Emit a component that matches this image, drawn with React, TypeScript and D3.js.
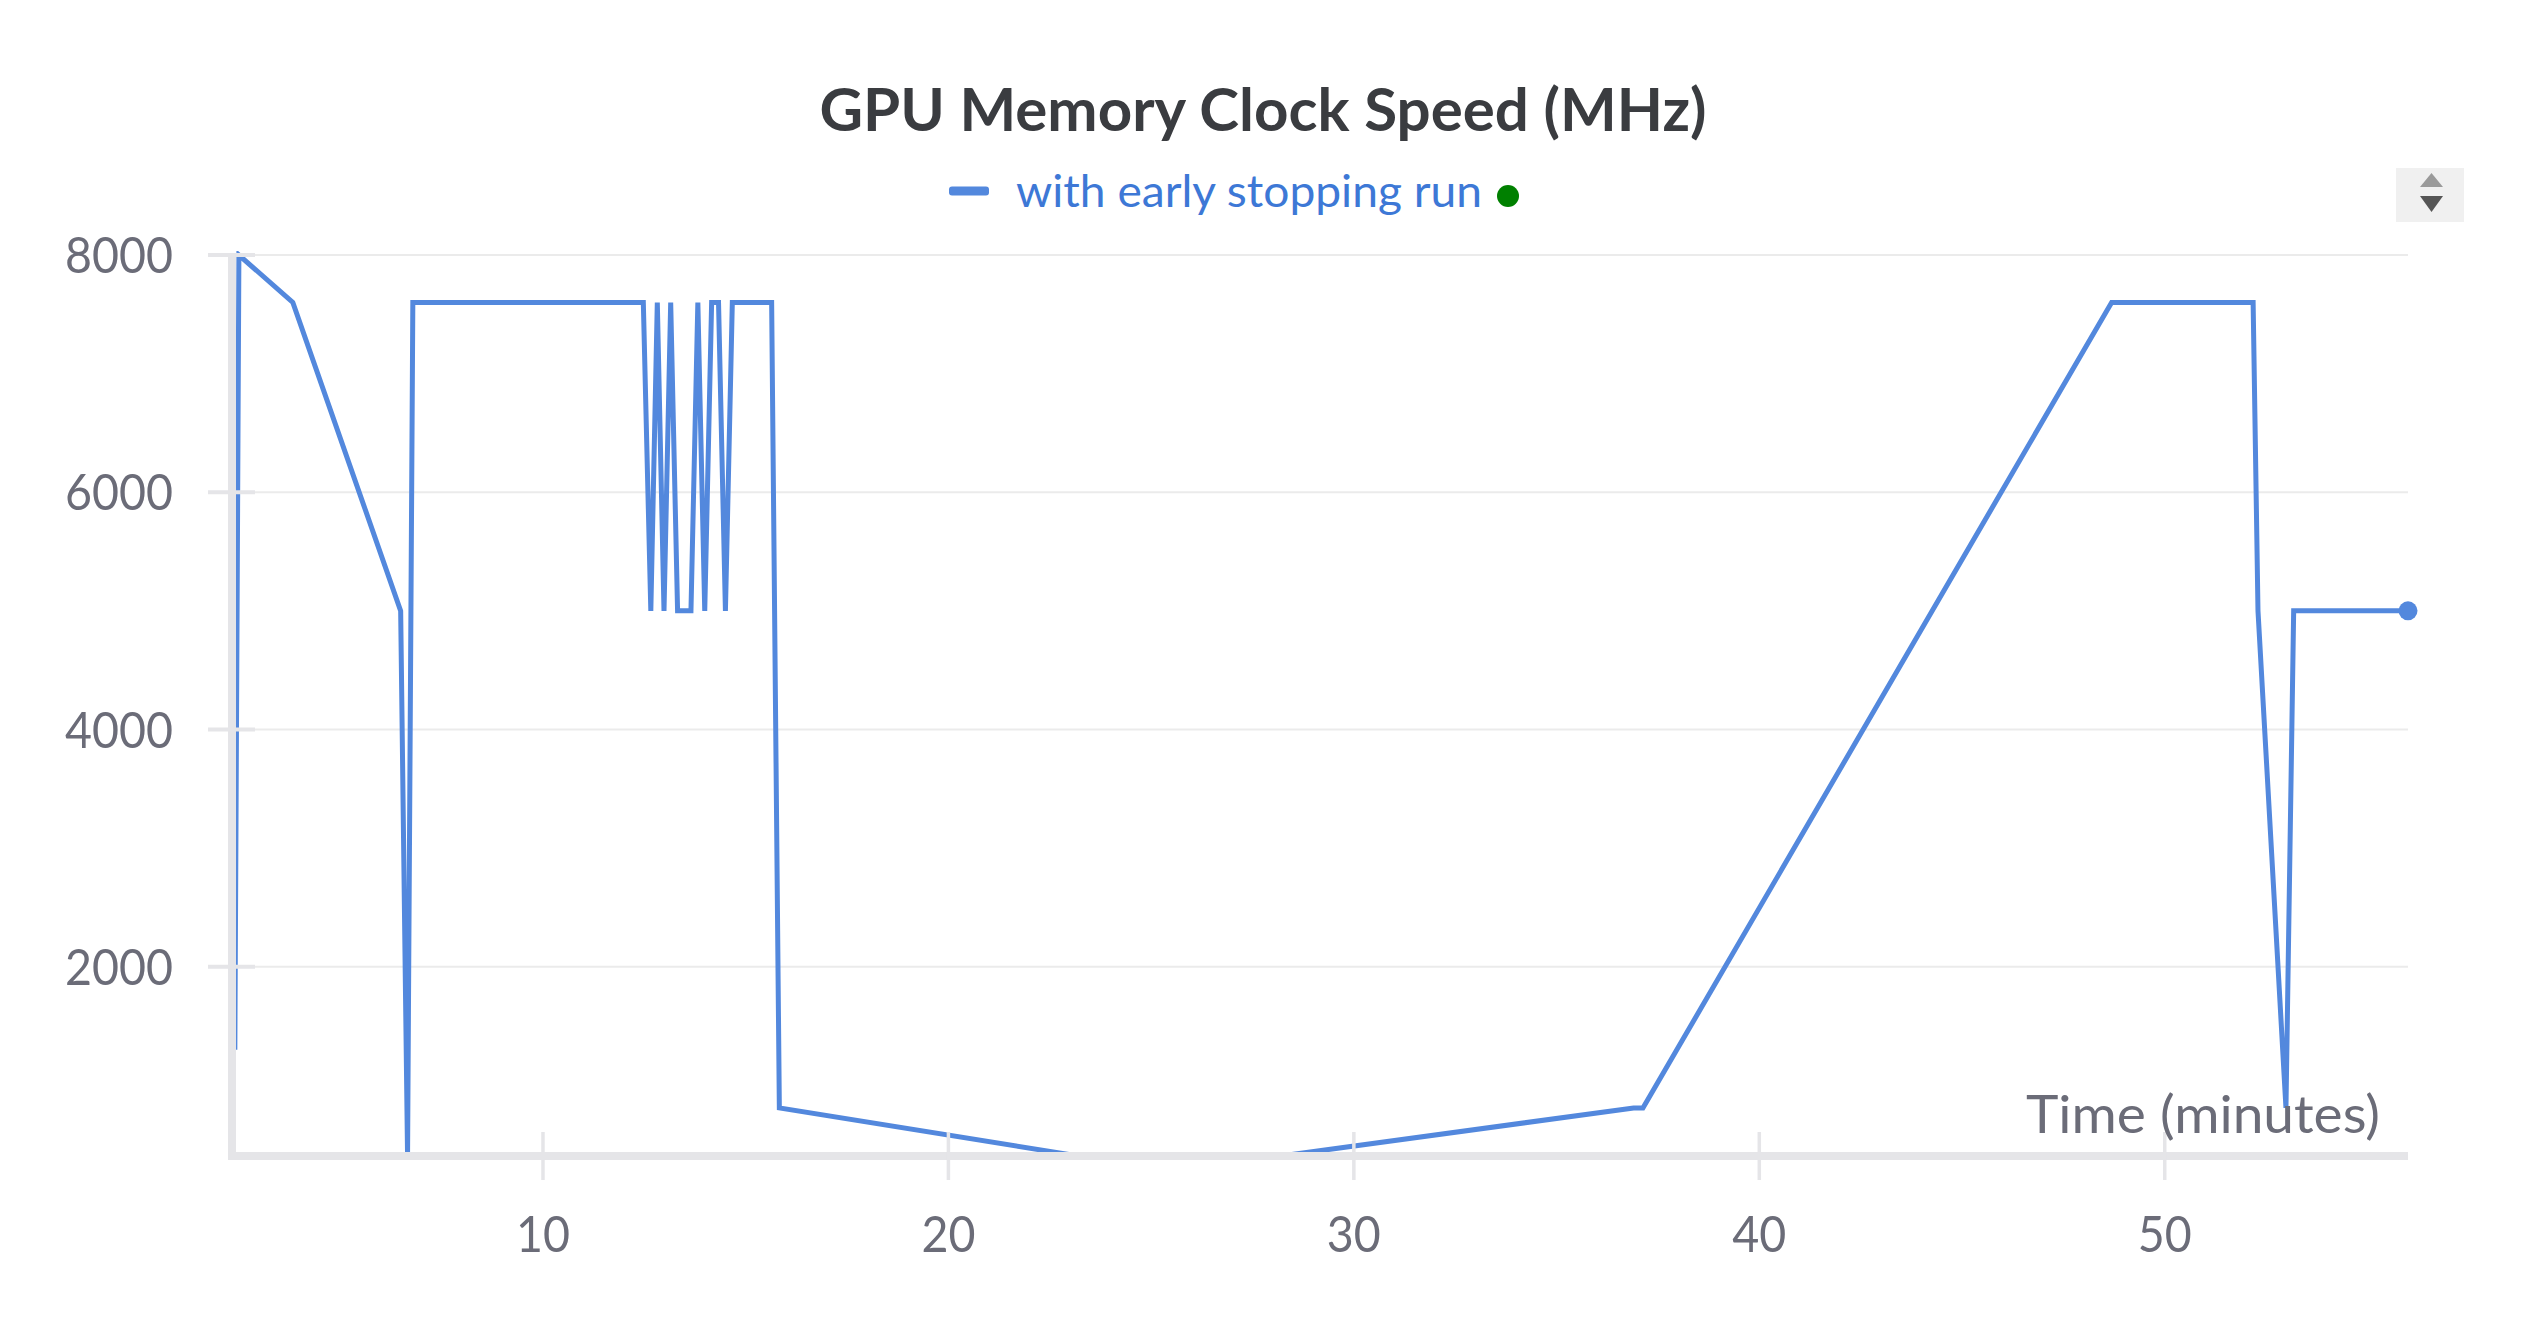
import React from "react";
import * as d3 from "d3";

const TITLE = "GPU Memory Clock Speed (MHz)";
const SERIES_NAME = "with early stopping run";
const X_LABEL = "Time (minutes)";

const times = [2.4, 2.5, 3.83, 6.49, 6.66, 6.79, 12.475, 12.66, 12.82, 12.985, 13.15, 13.32, 13.65, 13.82, 13.99, 14.16, 14.33, 14.5, 14.67, 15.64, 15.83, 23.2, 28.2, 36.9, 37.13, 48.69, 52.18, 52.3, 52.99, 53.18, 56.0];
const clockMHz = [1300, 8001, 7601, 5001, 405, 7601, 7601, 5001, 7601, 5001, 7601, 5001, 5001, 7601, 5001, 7601, 7601, 5001, 7601, 7601, 810, 405, 405, 810, 810, 7601, 7601, 5001, 810, 5001, 5001];

const xTicks = [10, 20, 30, 40, 50];
const yTicks = [2000, 4000, 6000, 8000];
const xDomain = [2.33, 56.0];
const yDomain = [405, 8001];

const LINE_COLOR = "#5388dd";
const AXIS_COLOR = "#e5e5e8";
const GRID_COLOR = "#ebebeb";
const TICK_TEXT = "#6b6c78";
const FONT = "Lato, 'Noto Sans', sans-serif";

export default function App() {
  const left = 232, right = 2408, top = 255, bottom = 1156;
  const x = d3.scaleLinear().domain(xDomain).range([left, right]);
  const y = d3.scaleLinear().domain(yDomain).range([bottom, top]);
  const pts = times.map((t, i) => [t, clockMHz[i]] as [number, number]);
  const line = d3.line<[number, number]>().x(d => x(d[0])).y(d => y(d[1]));
  const last = pts[pts.length - 1];

  return (
    <svg width={2528} height={1328} style={{ position: "absolute", left: 0, top: 0, background: "#fff" }} fontFamily={FONT}>
      <defs>
        <clipPath id="plot">
          <rect x={left} y={top - 4} width={right - left} height={bottom - top + 4} />
        </clipPath>
      </defs>
      {/* Title */}
      <text x={1263} y={131} textAnchor="middle" fontSize={60} fontWeight={700} fill="#3a3c40" textLength={887} lengthAdjust="spacingAndGlyphs">{TITLE}</text>
      {/* Legend */}
      <rect x={949} y={186.5} width={40} height={9} rx={3} fill={LINE_COLOR} />
      <text x={1016} y={207} fontSize={44} fill="#3d78d6" textLength={466} lengthAdjust="spacingAndGlyphs">{SERIES_NAME}</text>
      <circle cx={1508} cy={196} r={11} fill="#008000" />
      {/* scroll control */}
      <rect x={2396} y={168} width={68} height={54} fill="#f0f0f0" />
      <path d="M2420,187 L2431.5,173 L2443,187 Z" fill="#9a9a9a" />
      <path d="M2420,196 L2431.5,212 L2443,196 Z" fill="#555" />
      {/* gridlines */}
      {yTicks.map(v => (
        <line key={"g" + v} x1={left} x2={right} y1={y(v)} y2={y(v)} stroke={GRID_COLOR} strokeWidth={2} />
      ))}
      {/* series */}
      <path d={line(pts) || ""} fill="none" stroke={LINE_COLOR} strokeWidth={5} strokeLinejoin="miter" clipPath="url(#plot)" />
      {/* axes */}
      <line x1={left} x2={left} y1={top} y2={bottom + 4} stroke={AXIS_COLOR} strokeWidth={8} />
      <line x1={left} x2={right} y1={bottom} y2={bottom} stroke={AXIS_COLOR} strokeWidth={8} />
      {yTicks.map(v => (
        <g key={"y" + v}>
          <line x1={208} x2={255} y1={y(v)} y2={y(v)} stroke={AXIS_COLOR} strokeWidth={4} />
          <text x={173} y={y(v) + 18} textAnchor="end" fontSize={50} fill={TICK_TEXT} textLength={108} lengthAdjust="spacingAndGlyphs">{v}</text>
        </g>
      ))}
      {xTicks.map(v => (
        <g key={"x" + v}>
          <line x1={x(v)} x2={x(v)} y1={1132} y2={1180} stroke={AXIS_COLOR} strokeWidth={3.5} />
          <text x={x(v)} y={1252} textAnchor="middle" fontSize={50} fill={TICK_TEXT} textLength={54} lengthAdjust="spacingAndGlyphs">{v}</text>
        </g>
      ))}
      <text x={2380} y={1133} textAnchor="end" fontSize={52} fill={TICK_TEXT} textLength={354} lengthAdjust="spacingAndGlyphs">{X_LABEL}</text>
      {/* end marker */}
      <circle cx={x(last[0])} cy={y(last[1])} r={9.5} fill={LINE_COLOR} />
    </svg>
  );
}
